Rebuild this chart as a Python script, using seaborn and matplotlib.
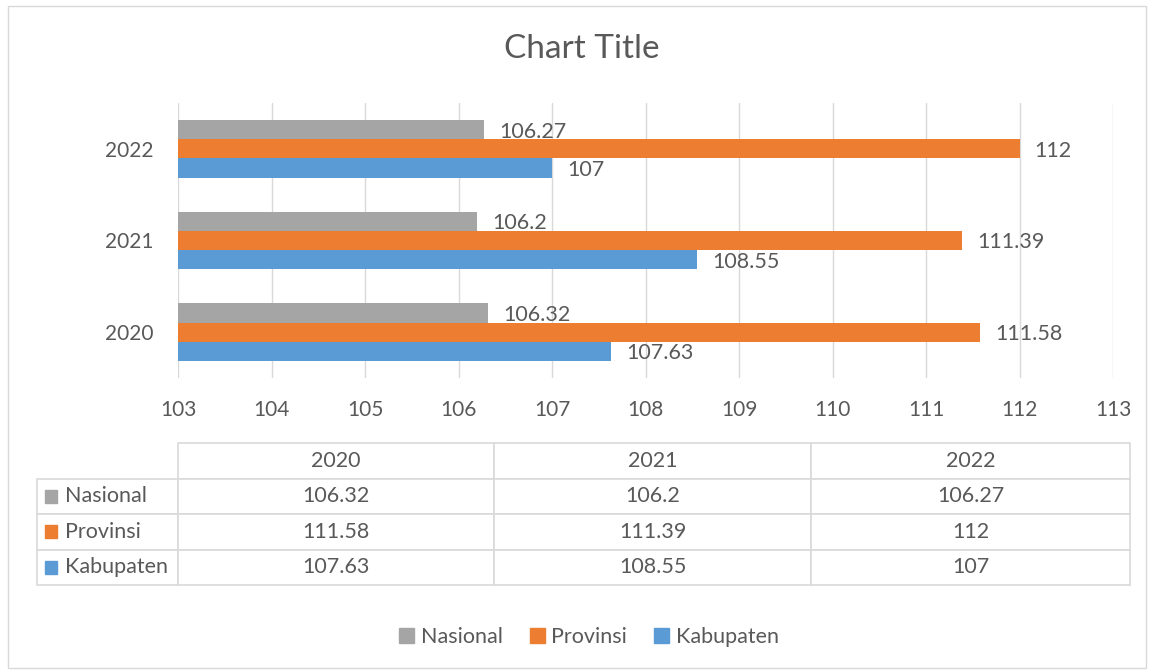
import numpy as np
import pandas as pd
import matplotlib
matplotlib.use("Agg")
import matplotlib.pyplot as plt
from matplotlib.patches import Rectangle
import seaborn as sns

W, H = 1150, 672

years = ["2020", "2021", "2022"]
series = ["Nasional", "Provinsi", "Kabupaten"]
nasional = [106.32, 106.2, 106.27]
provinsi = [111.58, 111.39, 112]
kabupaten = [107.63, 108.55, 107]
colors = ["#A5A5A5", "#ED7D31", "#5B9BD5"]
xticks = list(range(103, 114))

TXT = "#595959"
GRID = "#D9D9D9"
FS = 15.5

sns.set_style("white")
plt.rcParams["font.family"] = ["Lato", "DejaVu Sans"]

df = pd.DataFrame({
    "year": years * 3,
    "series": np.repeat(series, 3),
    "value": nasional + provinsi + kabupaten,
})


def fx(px):
    return px / W


def fy(py):
    return 1 - py / H


fig = plt.figure(figsize=(W / 100, H / 100), dpi=100)
fig.patches.append(Rectangle((fx(8), fy(668)), fx(1146) - fx(8), fy(6) - fy(668),
                             transform=fig.transFigure, fill=False,
                             edgecolor=GRID, linewidth=1))

# ---- bar chart ----
ax = fig.add_axes([fx(178), fy(378), fx(1113) - fx(178), fy(103) - fy(378)])
sns.barplot(data=df, x="value", y="year", hue="series", orient="h",
            order=years[::-1], hue_order=series, palette=colors,
            saturation=1, width=0.63, ax=ax, legend=False, linewidth=0)
for c in ax.containers:
    labels = ax.bar_label(c, fmt="{:g}", padding=11, fontsize=FS, color=TXT)
    for t in labels:
        t.set_va("center_baseline")

ax.set_xlim(103, 113)
ax.set_ylim(2.5, -0.5)
ax.set_xticks(xticks)
ax.set_xticklabels([str(t) for t in xticks])
ax.grid(axis="x", color=GRID, linewidth=1)
ax.set_axisbelow(True)
for s in ax.spines.values():
    s.set_visible(False)
ax.tick_params(axis="x", length=0, pad=16, labelsize=15, labelcolor=TXT)
ax.tick_params(axis="y", length=0, pad=18, labelsize=15, labelcolor=TXT)
ax.set_xlabel("")
ax.set_ylabel("")

fig.text(fx(582), fy(49), "Chart Title", ha="center", va="center",
         fontsize=24, color=TXT)

# ---- data table ----
tax = fig.add_axes([fx(37), fy(585), fx(1130) - fx(37), fy(443) - fy(585)])
tax.axis("off")
cell_text = [[""] + years]
for name, vals in zip(series, [nasional, provinsi, kabupaten]):
    cell_text.append(["    " + name] + [f"{v:g}" for v in vals])
widths = np.array([141, 316, 317, 319], dtype=float)
widths = widths / widths.sum()
tbl = tax.table(cellText=cell_text, colWidths=list(widths), cellLoc="center",
                bbox=[0, 0, 1, 1])
tbl.auto_set_font_size(False)
for (r, c), cell in tbl.get_celld().items():
    cell.set_edgecolor(GRID)
    cell.set_linewidth(1.2)
    cell.get_text().set_color(TXT)
    cell.get_text().set_fontsize(FS)
    if c == 0:
        cell.get_text().set_ha("left")
        cell._loc = "left"
        cell.PAD = 0.04
    if r == 0 and c == 0:
        cell.visible_edges = "open"

# legend squares in row label cells
nrows = 4
for i, col in enumerate(colors):
    yc = 1 - (i + 1.5) / nrows
    tax.add_patch(Rectangle((0.0075, yc - 0.045), 0.011, 0.09,
                            transform=tax.transAxes, color=col, clip_on=False))

# ---- legend ----
handles = [Rectangle((0, 0), 1, 1, color=c) for c in colors]
fig.legend(handles, series, loc="center", bbox_to_anchor=(fx(589), fy(637)),
           ncol=3, frameon=False, handlelength=0.7, handleheight=0.7,
           handletextpad=0.3, columnspacing=1.25, fontsize=FS,
           labelcolor=TXT)

fig.savefig("out.png", dpi=100)
